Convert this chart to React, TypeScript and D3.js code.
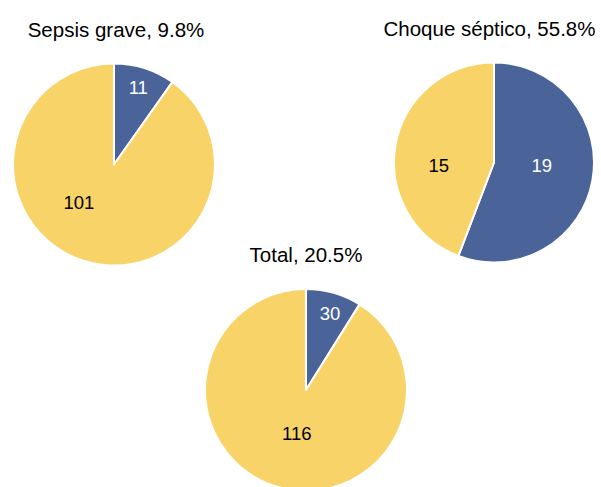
import React from "react";
import * as d3 from "d3";

// ---- data ----
const pieTitles = ["Sepsis grave, 9.8%", "Choque séptico, 55.8%", "Total, 20.5%"];
const positiveCounts = [11, 19, 30];
const negativeCounts = [101, 15, 116];
// share (percent) of the blue slice as drawn in the picture
const drawnPositiveShare = [9.8, 55.8, 8.9];

// ---- layout (positions / styles) ----
const W = 601;
const H = 487;
const panels = [
  { cx: 114, cy: 164.5, r: 101, titleDx: 2 },
  { cx: 494, cy: 162.5, r: 100, titleDx: -4.5 },
  { cx: 306, cy: 390, r: 101, titleDx: 0 },
];
// label offsets as fractions of radius [positive, negative]
const labelOffsets = [
  [[0.24, -0.765], [-0.347, 0.371]],
  [[0.477, 0.025], [-0.552, 0.025]],
  [[0.238, -0.762], [-0.092, 0.429]],
];
const titleGap = 27;
const BLUE = "#4a6399";
const YELLOW = "#f8d368";
const FONT = "'Liberation Sans', Arial, Helvetica, sans-serif";

export default function App() {
  const pieGen = d3.pie<number>().sort(null).value((d) => d);
  return (
    <svg
      width={W}
      height={H}
      style={{ position: "fixed", left: 0, top: 0, background: "#fff" }}
      fontFamily={FONT}
    >
      {panels.map((p, i) => {
        const share = drawnPositiveShare[i];
        const arcs = pieGen([share, 100 - share]);
        const arcGen = d3.arc<d3.PieArcDatum<number>>().innerRadius(0).outerRadius(p.r);
        const colors = [BLUE, YELLOW];
        const labels = [positiveCounts[i], negativeCounts[i]];
        const labelColors = ["#ffffff", "#000000"];
        return (
          <g key={i}>
            <text
              x={p.cx + p.titleDx}
              y={p.cy - p.r - titleGap}
              textAnchor="middle"
              fontSize={20.5}
              fill="#000"
            >
              {pieTitles[i]}
            </text>
            <g transform={`translate(${p.cx},${p.cy})`}>
              {arcs.map((a, j) => (
                <path
                  key={j}
                  d={arcGen(a) || ""}
                  fill={colors[j]}
                  stroke="#ffffff"
                  strokeWidth={2}
                  strokeLinejoin="round"
                />
              ))}
              {labels.map((v, j) => (
                <text
                  key={j}
                  x={labelOffsets[i][j][0] * p.r}
                  y={labelOffsets[i][j][1] * p.r}
                  dy="0.36em"
                  textAnchor="middle"
                  fontSize={18.5}
                  fill={labelColors[j]}
                >
                  {v}
                </text>
              ))}
            </g>
          </g>
        );
      })}
    </svg>
  );
}
